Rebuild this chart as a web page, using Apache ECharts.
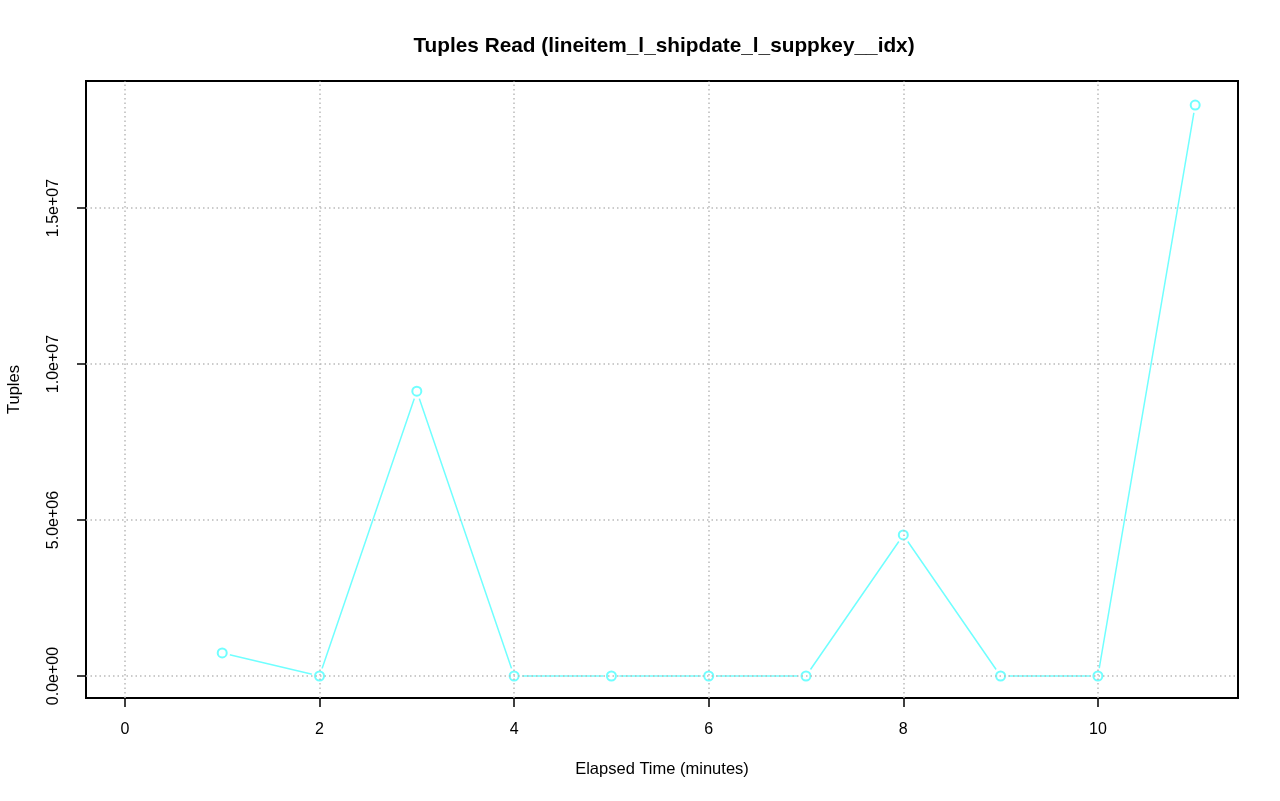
<!DOCTYPE html>
<html>
<head>
<meta charset="utf-8">
<script src="https://cdn.jsdelivr.net/npm/echarts@6/dist/echarts.min.js"></script>
<style>
  html, body { margin: 0; padding: 0; background: #fff; }
  #main { width: 1280px; height: 801px; }
</style>
</head>
<body>
<div id="main"></div>
<script>
  // elapsed minutes and tuples read
  var minutes = [1, 2, 3, 4, 5, 6, 7, 8, 9, 10, 11];
  var tuples = [740000, 0, 9130000, 0, 0, 0, 0, 4520000, 0, 0, 18300000];
  var xTicks = [0, 2, 4, 6, 8, 10];
  var yTicks = [0, 5000000, 10000000, 15000000];

  var pts = minutes.map(function (m, i) { return [m, tuples[i]]; });
  var lineColor = '#70FFFF';
  var font = 'Liberation Sans, Arial, Helvetica, sans-serif';

  function sci(v) {
    if (v === 0) return '0.0e+00';
    var e = Math.floor(Math.log10(Math.abs(v)));
    var m = v / Math.pow(10, e);
    return m.toFixed(1) + 'e+' + (e < 10 ? '0' + e : e);
  }

  var myChart = echarts.init(document.getElementById('main'));
  var option = {
    backgroundColor: '#fff',
    animation: false,
    title: {
      text: 'Tuples Read (lineitem_l_shipdate_l_suppkey__idx)',
      left: 659, top: 31, textAlign: 'center',
      textStyle: { fontFamily: font, fontSize: 20.8, fontWeight: 'bold', color: '#000' }
    },
    grid: {
      left: 86, right: 42, top: 81, bottom: 103,
      outerBoundsMode: 'none', containLabel: false,
      show: true, borderColor: '#000', borderWidth: 2, backgroundColor: 'transparent'
    },
    xAxis: {
      type: 'value', min: -0.4, max: 11.44,
      name: 'Elapsed Time (minutes)', nameLocation: 'middle', nameGap: 63,
      nameTextStyle: { fontFamily: font, fontSize: 16.5, color: '#000' },
      axisLine: { show: false, onZero: false },
      axisTick: { show: true, length: 9, customValues: xTicks, lineStyle: { color: '#000', width: 1.5 } },
      axisLabel: { customValues: xTicks, margin: 24, fontFamily: font, fontSize: 16, color: '#000' },
      splitLine: { show: false }
    },
    yAxis: {
      type: 'value', min: -705000, max: 19070000,
      name: 'Tuples', nameLocation: 'middle', nameGap: 63, nameRotate: 90,
      nameTextStyle: { fontFamily: font, fontSize: 16.5, color: '#000' },
      axisLine: { show: false, onZero: false },
      axisTick: { show: true, length: 9, customValues: yTicks, lineStyle: { color: '#000', width: 1.5 } },
      axisLabel: { customValues: yTicks, rotate: 90, margin: 24, fontFamily: font, fontSize: 16, color: '#000',
        formatter: function (v) { return sci(v); } },
      splitLine: { show: false }
    },
    series: [
      {
        type: 'line', data: pts, showSymbol: false, z: 2,
        lineStyle: { color: lineColor, width: 1.5 },
        markLine: {
          silent: true, symbol: 'none', label: { show: false },
          lineStyle: { color: '#bbb', type: [1.5, 3], width: 1.5 },
          data: xTicks.map(function (v) { return { xAxis: v }; })
            .concat(yTicks.map(function (v) { return { yAxis: v }; }))
        }
      },
      {
        type: 'scatter', data: pts, symbol: 'circle', symbolSize: 16, z: 3,
        itemStyle: { color: '#fff', opacity: 1 }
      },
      {
        type: 'scatter', data: pts, symbol: 'emptyCircle', symbolSize: 9, z: 4,
        itemStyle: { color: lineColor, borderColor: lineColor, borderWidth: 1.5, opacity: 1 }
      }
    ]
  };
  myChart.setOption(option);
</script>
</body>
</html>
